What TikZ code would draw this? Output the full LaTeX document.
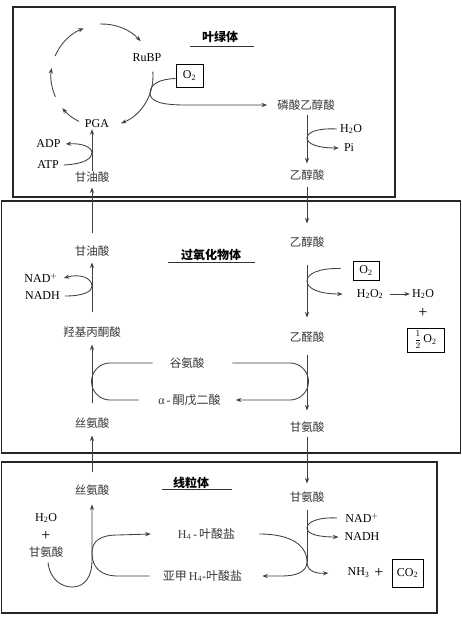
\documentclass[tikz,border=0pt]{standalone}
\usepackage{fontspec}
\setmainfont{Liberation Serif}
\newfontfamily\cjk{Noto Sans CJK SC}
\usetikzlibrary{arrows.meta}
\begin{document}
\begin{tikzpicture}[x=1pt,y=-1pt,
  every node/.style={inner sep=1pt},
  cn/.style={font=\cjk\fontsize{11.5}{12}\selectfont, text=black!78},
  lt/.style={font=\fontsize{12}{13}\selectfont},
  ltc/.style={font=\fontsize{12}{13}\selectfont, text=black!78},
  pls/.style={font=\fontsize{16}{16}\selectfont},
  ttl/.style={font=\cjk\bfseries\fontsize{12}{13}\selectfont},
  frame/.style={draw=black!85, line width=1.3pt},
  ul/.style={draw=black!80, line width=0.8pt},
  ln/.style={draw=black!75, line width=0.85pt},
  arr/.style={ln, -{Stealth[length=5.5pt,width=4.2pt]}},
  bx/.style={draw=black, line width=1pt, font=\fontsize{12}{13}\selectfont, inner sep=0pt}
]
\useasboundingbox (0,0) rectangle (462,629);
\fill[white] (0,0) rectangle (462,629);

% frames
\draw[frame] (13,7) rectangle (395,197);
\draw[frame] (1.5,201) rectangle (460.5,453);
\draw[frame] (1.5,462) rectangle (437,613);

% titles
\node[ttl] (t1) at (220,37) {叶绿体};
\draw[ul] (190,46) -- (254,46);
\node[ttl] (t2) at (211,255) {过氧化物体};
\draw[ul] (168,262) -- (255,262);
\node[ttl] (t3) at (191,483) {线粒体};
\draw[ul] (162,489) -- (232,489);

% ---------- chloroplast ----------
\coordinate (cc) at (102,76);
\node[lt] (rubp) at (147,58) {RuBP};
\node[lt] (pga) at (97,124) {PGA};
\node[bx, minimum width=27pt, minimum height=23pt] (o2a) at (189.5,75.5) {O\textsubscript{2}};
\node[cn] (pgla) at (306,105) {磷酸乙醇酸};
\node[lt] (adp) at (48.5,144) {ADP};
\node[lt] (atp) at (48,165) {ATP};
\node[cn] (glyc1) at (92,177) {甘油酸};
\node[lt] (h2oa) at (351,129) {H\textsubscript{2}O};
\node[lt] (pia) at (349,148) {Pi};
\node[cn] (glyco1) at (307,175) {乙醇酸};

\draw[arr] ([shift={(-92:52)}]cc) arc[start angle=-92,end angle=-42,radius=52];
\draw[arr] ([shift={(-5:51)}]cc) arc[start angle=-5,end angle=68,radius=51];
\draw[arr] ([shift={(117:51)}]cc) arc[start angle=117,end angle=141,radius=51];
\draw[arr] ([shift={(156:51)}]cc) arc[start angle=156,end angle=189,radius=51];
\draw[arr] ([shift={(203:51)}]cc) arc[start angle=203,end angle=249,radius=51];

\draw[arr] ([yshift=-3pt]o2a.west) .. controls (160,79) and (150,84) .. (150,93)
  .. controls (150,101) and (160,105) .. (185,105) -- ([xshift=-9pt]pgla.west);
\draw[arr] ([xshift=4pt]atp.east) .. controls (85,164) and (92,158) .. (92,153)
  .. controls (92,147) and (82,143) .. ([xshift=4pt]adp.east);
\draw[arr] (glyc1.north) -- (glyc1.north |- pga.south);
\draw[arr] ([xshift=-2pt]h2oa.west) .. controls (318,128) and (307,132) .. (307,138)
  .. controls (307,144) and (318,148) .. ([xshift=-4pt]pia.west);
\draw[arr, shorten <=3pt, shorten >=5pt] (glyco1 |- pgla.south) -- (glyco1.north);

% ---------- peroxisome ----------
\node[cn] (glyco2) at (307,242) {乙醇酸};
\node[bx, minimum width=26pt, minimum height=19pt] (o2b) at (366,270.5) {O\textsubscript{2}};
\node[lt] (h2o2) at (370,294) {H\textsubscript{2}O\textsubscript{2}};
\node[lt] (h2ob) at (423,294) {H\textsubscript{2}O};
\node[pls] (plusb) at (423,313) {+};
\node[bx, minimum width=37pt, minimum height=24pt] (half) at (425.5,340) {{\fontsize{9}{10}\selectfont$\displaystyle\frac{1}{2}$}\,O\textsubscript{2}};
\node[cn] (glyox) at (307,337) {乙醛酸};
\node[cn] (gly1) at (307,427) {甘氨酸};
\node[cn] (glyc2) at (92,251) {甘油酸};
\node[lt] (nadp1) at (41,278) {NAD$^{+}$};
\node[lt] (nadh1) at (42.5,296) {NADH};
\node[cn] (hp) at (92,332) {羟基丙酮酸};
\node[cn] (glu) at (187,363) {谷氨酸};
\node[ltc] (akg) at (189.5,400) {α\,-\,{\cjk 酮戊二酸}};
\node[cn] (ser1) at (92,423) {丝氨酸};

\draw[arr, shorten <=5pt, shorten >=12pt] (glyco1.south) -- (glyco2.north);
\draw[arr, shorten <=12pt, shorten >=4pt] (glyc2.north) -- (glyc1.south);
\draw[arr, shorten <=16pt, shorten >=13pt] (glyco2.south) -- (glyox.north);
\draw[arr] ([xshift=-12pt, yshift=2pt]o2b.west) .. controls (318,268) and (307,274) .. (307,281)
  .. controls (307,289) and (320,294) .. ([xshift=-13pt]h2o2.west);
\draw[arr] ([xshift=6pt]h2o2.east) -- ([xshift=-1pt]h2ob.west);
\draw[arr, shorten <=11pt, shorten >=10pt] (glyox.south) -- (gly1.north);
\draw[arr] ([xshift=4pt]nadh1.east) .. controls (85,296) and (92,291) .. (92,286)
  .. controls (92,279) and (82,273) .. ([xshift=5pt]nadp1.east);
\draw[arr, shorten <=13pt, shorten >=5pt] (hp.north) -- (glyc2.south);
\draw[arr, shorten <=13pt, shorten >=6pt] (ser1.north) -- (hp.south);
\draw[ln] ([xshift=-16pt]glu.west) -- (110,363) arc[start angle=-90,end angle=-270,radius=18.5]
  -- ([xshift=-18pt]akg.west);
\draw[arr] ([xshift=27pt]glu.east) -- (290,363) arc[start angle=-90,end angle=90,radius=18.5]
  -- ([xshift=14pt]akg.east);

% ---------- mitochondrion ----------
\node[cn] (ser2) at (92,490) {丝氨酸};
\node[cn] (gly2) at (307,497) {甘氨酸};
\node[lt] (h2oc) at (46,518) {H\textsubscript{2}O};
\node[pls] (plusc) at (46,536) {+};
\node[cn] (gly3) at (46,552) {甘氨酸};
\node[ltc] (thf) at (206.5,534) {H\textsubscript{4}\,-\,{\cjk 叶酸盐}};
\node[ltc] (mthf) at (202.5,576) {{\cjk 亚甲}\,H\textsubscript{4}-{\cjk 叶酸盐}};
\node[lt] (nadp2) at (362,518) {NAD$^{+}$};
\node[lt] (nadh2) at (362,537) {NADH};
\node[lt] (nh3) at (358.5,573) {NH\textsubscript{3}};
\node[pls] (plusd) at (379,573) {+};
\node[bx, minimum width=31pt, minimum height=28pt] (co2) at (407.5,573) {CO\textsubscript{2}};

\coordinate (fk) at (92,553);
\coordinate (jn) at (307,562);
\draw[arr, shorten <=11pt, shorten >=6pt] (ser2.north) -- (ser1.south);
\draw[arr, shorten <=3pt, shorten >=7pt] (gly1.south) -- (gly2.north);
\draw[arr] ([xshift=2pt,yshift=-4pt]gly3.south) .. controls (50,580) and (62,587) .. (72,587)
  .. controls (84,587) and (92,578) .. (92,560) -- ([yshift=-8pt]ser2.south);
\draw[arr] (fk) .. controls (92,541) and (100,535) .. (118,535) -- ([xshift=-26pt]thf.west);
\draw[ln] (fk) .. controls (92,567) and (100,576) .. (118,576) -- ([xshift=-12pt]mthf.west);
\draw[ln, shorten <=6pt] (gly2.south) -- (jn);
\draw[ln] ([xshift=23pt]thf.east) .. controls (292,534) and (307,546) .. (jn);
\draw[arr] (jn) .. controls (307,572) and (296,576) .. (282,576) -- ([xshift=19pt]mthf.east);
\draw[arr] (jn) .. controls (307,570) and (314,574) .. ([xshift=-18pt]nh3.west);
\draw[arr] ([xshift=-7pt]nadp2.west) .. controls (318,517) and (307,522) .. (307,528)
  .. controls (307,534) and (318,537) .. ([xshift=-5pt]nadh2.west);
\end{tikzpicture}
\end{document}
